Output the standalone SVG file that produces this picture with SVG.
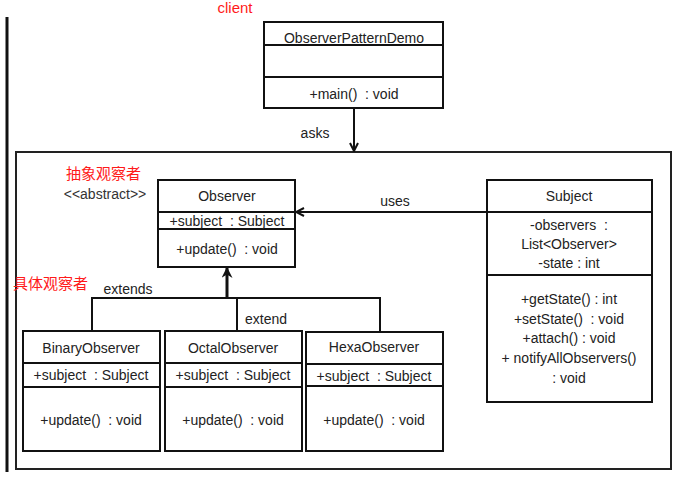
<svg xmlns="http://www.w3.org/2000/svg" width="680" height="482" viewBox="0 0 680 482">
<defs>
<style>
.box{fill:#fff;stroke:#111;stroke-width:2}
.ln{stroke:#111;stroke-width:2;fill:none}
.t{font-family:"Liberation Sans","Open Sans",sans-serif;font-size:14px;fill:#222;text-anchor:middle;white-space:pre}
.r{font-family:"Liberation Sans","Noto Sans CJK SC",sans-serif;font-size:15px;fill:#ff1a1a}
</style>
<marker id="open" viewBox="0 0 10 10" refX="9" refY="5" markerWidth="10" markerHeight="10" markerUnits="userSpaceOnUse" orient="auto">
<path d="M1,1 L9,5 L1,9" fill="none" stroke="#111" stroke-width="2"/>
</marker>
<marker id="solid" viewBox="0 0 10 10" refX="9" refY="5" markerWidth="11" markerHeight="11" markerUnits="userSpaceOnUse" orient="auto">
<path d="M0,0 L10,5 L0,10 L3,5 Z" fill="#111"/>
</marker>
</defs>
<rect width="680" height="482" fill="#fff"/>
<line x1="7" y1="17" x2="7" y2="472" stroke="#111" stroke-width="3"/>
<rect x="16" y="152" width="655" height="317" fill="none" stroke="#222" stroke-width="2"/>
<text class="r" x="235" y="13" text-anchor="middle" font-size="16">client</text>
<text class="r" x="66" y="179">抽象观察者</text>
<text class="t" x="105" y="199" style="fill:#333">&lt;&lt;abstract&gt;&gt;</text>
<text class="r" x="13" y="289">具体观察者</text>

<g id="connectors">
<line class="ln" x1="354" y1="108" x2="354" y2="151" marker-end="url(#open)"/>
<text class="t" x="315" y="138">asks</text>
<line class="ln" x1="487" y1="212" x2="296" y2="212" marker-end="url(#open)"/>
<text class="t" x="395" y="206">uses</text>
<line x1="227" y1="298" x2="227" y2="268" stroke="#111" stroke-width="3" marker-end="url(#solid)"/>
<polyline class="ln" points="92,331 92,298 380,298 380,332"/>
<line class="ln" x1="237" y1="298" x2="237" y2="331"/>
<text class="t" x="128" y="294">extends</text>
<text class="t" x="266" y="324">extend</text>
</g>

<g id="ObserverPatternDemo">
<rect class="box" x="264" y="22" width="179" height="86"/>
<line class="ln" x1="264" y1="45" x2="443" y2="45"/>
<line class="ln" x1="264" y1="77" x2="443" y2="77"/>
<text class="t" x="354" y="43">ObserverPatternDemo</text>
<text class="t" x="354" y="99">+main()  : void</text>
</g>

<g id="Observer">
<rect class="box" x="158" y="180" width="137" height="87"/>
<line class="ln" x1="158" y1="212" x2="295" y2="212"/>
<line class="ln" x1="158" y1="229" x2="295" y2="229"/>
<text class="t" x="227" y="201">Observer</text>
<text class="t" x="227" y="226">+subject  : Subject</text>
<text class="t" x="227" y="254">+update()  : void</text>
</g>

<g id="Subject">
<rect class="box" x="487" y="180" width="165" height="222"/>
<line class="ln" x1="487" y1="212" x2="652" y2="212"/>
<line class="ln" x1="487" y1="275" x2="652" y2="275"/>
<text class="t" x="569" y="201">Subject</text>
<text class="t" x="569" y="230">-observers  :</text>
<text class="t" x="569" y="249">List&lt;Observer&gt;</text>
<text class="t" x="569" y="268">-state : int</text>
<text class="t" x="569" y="304">+getState() : int</text>
<text class="t" x="569" y="324">+setState()  : void</text>
<text class="t" x="569" y="343">+attach() : void</text>
<text class="t" x="569" y="363">+ notifyAllObservers()</text>
<text class="t" x="569" y="383">: void</text>
</g>

<g id="BinaryObserver">
<rect class="box" x="23" y="331" width="137" height="120"/>
<line class="ln" x1="23" y1="363" x2="160" y2="363"/>
<line class="ln" x1="23" y1="387" x2="160" y2="387"/>
<text class="t" x="91" y="353">BinaryObserver</text>
<text class="t" x="91" y="380">+subject  : Subject</text>
<text class="t" x="91" y="425">+update()  : void</text>
</g>

<g id="OctalObserver">
<rect class="box" x="165" y="331" width="137" height="120"/>
<line class="ln" x1="165" y1="363" x2="302" y2="363"/>
<line class="ln" x1="165" y1="387" x2="302" y2="387"/>
<text class="t" x="233" y="353">OctalObserver</text>
<text class="t" x="233" y="380">+subject  : Subject</text>
<text class="t" x="233" y="425">+update()  : void</text>
</g>

<g id="HexaObserver">
<rect class="box" x="306" y="332" width="137" height="119"/>
<line class="ln" x1="306" y1="364" x2="443" y2="364"/>
<line class="ln" x1="306" y1="386" x2="443" y2="386"/>
<text class="t" x="374" y="352">HexaObserver</text>
<text class="t" x="374" y="381">+subject  : Subject</text>
<text class="t" x="374" y="425">+update()  : void</text>
</g>
</svg>
